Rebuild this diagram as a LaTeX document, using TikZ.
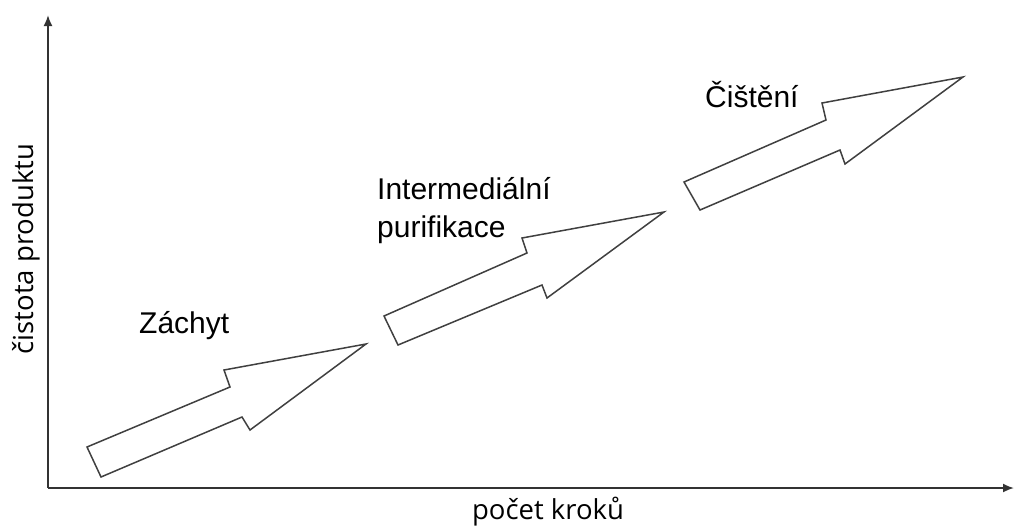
\documentclass[tikz,border=0pt]{standalone}
\usepackage{fontspec}
\setmainfont{Liberation Sans}
\newfontfamily\axisfont{Open Sans}
\usetikzlibrary{arrows.meta}
\begin{document}
\begin{tikzpicture}[x=1pt,y=-1pt,
  stagearrow/.style={draw=black!75,line width=1.5pt,fill=white,line join=miter},
  axis/.style={draw=black!80,line width=1.8pt,-{Latex[length=11pt,width=9pt]}},
  stagelabel/.style={font=\fontsize{30}{38}\selectfont,anchor=base west,inner sep=0pt},
  axislabel/.style={font=\axisfont\fontsize{27.5}{30}\selectfont,inner sep=0pt}]
\useasboundingbox (0,0) rectangle (1015,528);

% axes
\coordinate (origin) at (48,488);
\coordinate (ytop) at (48,15);
\coordinate (xend) at (1014,488);
\draw[axis] (origin) -- (ytop);
\draw[axis] (origin) -- (xend);
\node[axislabel,rotate=90,anchor=base] (ylab) at (33,249) {čistota produktu};
\node[axislabel,anchor=base] (xlab) at (548,519) {počet kroků};

% stage 1
\draw[stagearrow] (87,447) -- (230,387) -- (224,370) -- (366,344) -- (250,430)
  -- (242,417) -- (101,477) -- cycle;
% stage 2
\draw[stagearrow] (384,316) -- (527,253) -- (522,238) -- (664,212) -- (547,298)
  -- (542,285) -- (398,345) -- cycle;
% stage 3
\draw[stagearrow] (684,182) -- (826,120) -- (822,103) -- (963,77) -- (845,164)
  -- (840,150) -- (700,210) -- cycle;

% stage labels
\node[stagelabel] (s1) at (139,333) {Záchyt};
\node[stagelabel] (s2a) at (377,199) {Intermediální};
\node[stagelabel] (s2b) at (377,237) {purifikace};
\node[stagelabel] (s3) at (705,107) {Čištění};
\end{tikzpicture}
\end{document}
